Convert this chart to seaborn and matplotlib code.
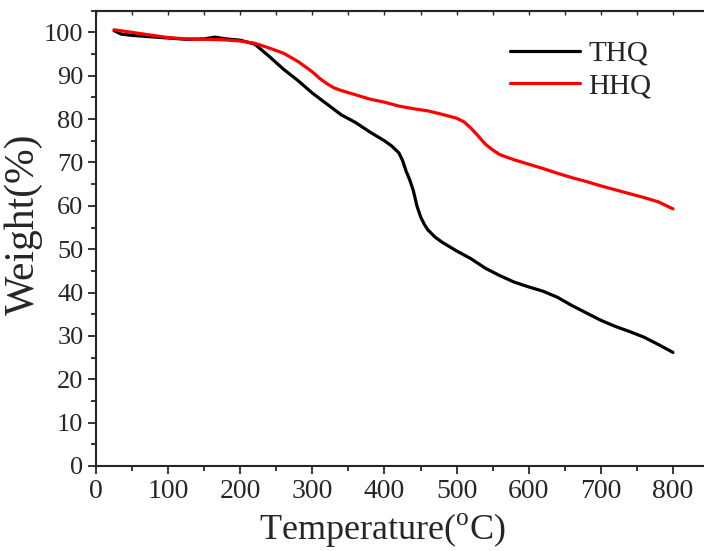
import matplotlib
matplotlib.use("Agg")
import matplotlib.pyplot as plt
import seaborn as sns
import numpy as np
import pandas as pd
from matplotlib.ticker import MultipleLocator

# TGA data
thq_temp = [25, 35, 50, 75, 100, 125, 150, 165, 180, 200, 220, 240, 260, 280,
            300, 320, 340, 360, 380, 400, 410, 420, 425, 430, 435, 440, 445,
            450, 455, 460, 470, 480, 500, 520, 540, 560, 580, 600, 620, 640,
            660, 680, 700, 720, 740, 760, 780, 800]
thq_weight = [100.4, 99.6, 99.3, 99.0, 98.7, 98.4, 98.5, 98.9, 98.5, 98.2, 97.3,
              94.5, 91.5, 88.9, 86.0, 83.5, 81.0, 79.2, 77.0, 75.0, 73.8, 72.2,
              70.5, 68.0, 66.0, 63.5, 60.0, 57.5, 55.8, 54.5, 52.8, 51.6, 49.6,
              47.8, 45.6, 43.9, 42.4, 41.3, 40.3, 38.9, 37.0, 35.3, 33.6, 32.2,
              31.0, 29.7, 28.0, 26.2]

hhq_temp = [25, 50, 75, 100, 125, 150, 175, 200, 220, 240, 260, 280, 300, 310,
            320, 330, 340, 360, 380, 400, 420, 440, 460, 480, 500, 510, 520,
            530, 540, 550, 560, 580, 600, 620, 640, 660, 680, 700, 720, 740,
            760, 780, 800]
hhq_weight = [100.6, 100.0, 99.4, 98.8, 98.5, 98.4, 98.3, 98.0, 97.5, 96.4, 95.2,
              93.3, 90.9, 89.4, 88.2, 87.2, 86.6, 85.6, 84.6, 83.9, 83.0, 82.4,
              81.9, 81.1, 80.2, 79.4, 77.9, 76.1, 74.2, 72.9, 71.8, 70.6, 69.6,
              68.6, 67.5, 66.5, 65.6, 64.6, 63.7, 62.8, 61.9, 60.9, 59.3]

series_names = ["THQ", "HHQ"]
series_colors = ["black", "red"]

df = pd.concat([
    pd.DataFrame({"Temperature": thq_temp, "Weight": thq_weight, "Sample": "THQ"}),
    pd.DataFrame({"Temperature": hhq_temp, "Weight": hhq_weight, "Sample": "HHQ"}),
])

sns.set_theme(style="ticks")
plt.rcParams["font.family"] = ["Liberation Serif", "DejaVu Serif"]
plt.rcParams["mathtext.fontset"] = "custom"
plt.rcParams["mathtext.rm"] = "Liberation Serif"

fig = plt.figure(figsize=(7.04, 5.51), dpi=100)
ax = fig.add_axes([96 / 704, 1 - 466 / 551, 613 / 704, 455.3 / 551])

sns.lineplot(data=df, x="Temperature", y="Weight", hue="Sample",
             hue_order=series_names, palette=dict(zip(series_names, series_colors)),
             estimator=None, sort=True, linewidth=2.3, ax=ax)

ax.set_xlim(0, 850)
ax.set_ylim(0, 105)
ax.xaxis.set_major_locator(MultipleLocator(100))
ax.xaxis.set_minor_locator(MultipleLocator(50))
ax.yaxis.set_major_locator(MultipleLocator(10))
ax.yaxis.set_minor_locator(MultipleLocator(5))

ax.tick_params(which="major", direction="out", length=6, width=1.3, labelsize=19, pad=3)
ax.tick_params(which="minor", direction="out", length=3.5, width=1.3)
ax.tick_params(axis="x", labelsize=20)

for side in ["left", "bottom", "top", "right"]:
    ax.spines[side].set_linewidth(1.5)

top = ax.secondary_xaxis("top")
top.xaxis.set_major_locator(MultipleLocator(50))
top.tick_params(direction="in", length=3, width=1.0, labeltop=False)
top.spines["top"].set_linewidth(1.5)

ax.set_xlabel(r"Temperature($^{\mathrm{o}}$C)", fontsize=26)
ax.xaxis.set_label_coords(0.467, -0.099)
ax.set_ylabel("Weight(%)", fontsize=30)
ax.yaxis.set_label_coords(-0.087, 0.532)

ax.legend(frameon=False, loc="upper left", bbox_to_anchor=(0.675, 0.935),
          fontsize=21, handlelength=2.4, handletextpad=0.3, labelspacing=0.22,
          borderaxespad=0, borderpad=0)

fig.savefig("out.png", dpi=100)
